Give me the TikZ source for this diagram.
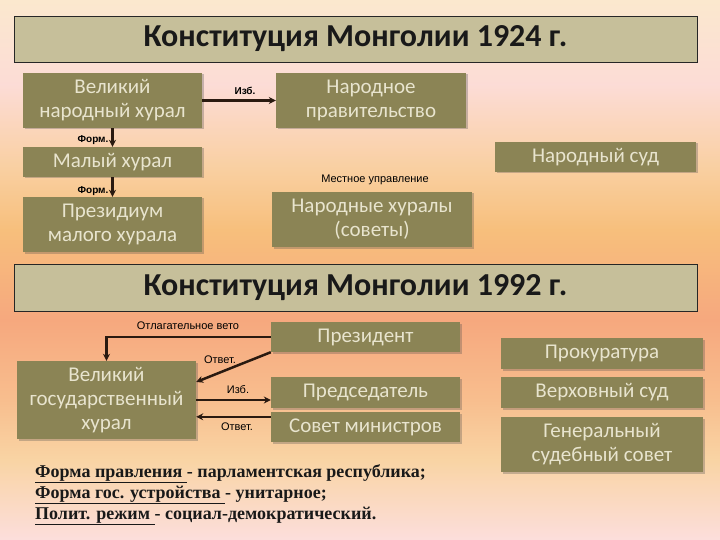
\documentclass[tikz,border=0pt]{standalone}
\usepackage{fontspec}
\setmainfont{Carlito}
\newfontfamily\lblfont{Liberation Sans}
\newfontfamily\serfont{Liberation Serif}
\usetikzlibrary{arrows.meta,shadows,calc}
\definecolor{olivebox}{HTML}{8B8455}
\definecolor{boxtxt}{HTML}{E8E4CE}
\definecolor{titlefill}{HTML}{C6BF9A}
\definecolor{arrcol}{HTML}{2A1A10}
\definecolor{bgA}{HTML}{FBE8CE}
\definecolor{bgB}{HTML}{FCDCD6}
\definecolor{bgC}{HTML}{F9CFA0}
\definecolor{bgD}{HTML}{F7BF7C}
\definecolor{bgE}{HTML}{F6A87E}
\definecolor{bgF}{HTML}{F8BE8E}
\definecolor{bgG}{HTML}{F9D4A4}
\definecolor{bgH}{HTML}{FCDEDC}
\tikzset{
  ob/.style={fill=olivebox, text=boxtxt, font=\fontsize{21}{24}\selectfont,
    align=center, inner sep=0pt,
    drop shadow={shadow xshift=1.5pt, shadow yshift=-1.5pt, opacity=0.3, fill=black!70}},
  tbox/.style={draw=black!85, line width=0.8pt, fill=titlefill, text=black!90,
    font=\bfseries\fontsize{32}{36}\selectfont, inner sep=0pt},
  arr/.style={line width=2.5pt, draw=arrcol, -{Stealth[length=7pt,width=7pt]}},
  lbl/.style={font=\lblfont\fontsize{11}{13}\selectfont, text=black, inner sep=0pt},
  lblb/.style={font=\lblfont\bfseries\fontsize{10}{12}\selectfont, text=black, inner sep=0pt},
  btxt/.style={font=\serfont\bfseries\fontsize{18}{21}\selectfont, text=black!90, inner sep=0pt, anchor=base west}
}
\begin{document}
\begin{tikzpicture}[x=1pt,y=-1pt]
\useasboundingbox (0,0) rectangle (720,540);
% background
\shade[top color=bgA, bottom color=bgB] (0,0) rectangle (720,85);
\shade[top color=bgB, bottom color=bgC] (0,85) rectangle (720,170);
\shade[top color=bgC, bottom color=bgD] (0,170) rectangle (720,230);
\shade[top color=bgD, bottom color=bgE] (0,230) rectangle (720,320);
\shade[top color=bgE, bottom color=bgF] (0,320) rectangle (720,400);
\shade[top color=bgF, bottom color=bgG] (0,400) rectangle (720,460);
\shade[top color=bgG, bottom color=bgH] (0,460) rectangle (720,540);
% titles
\node[tbox, minimum width=683pt, minimum height=46pt] (t1) at (355.5,39) {Конституция Монголии 1924 г.};
\node[tbox, minimum width=683pt, minimum height=47pt] (t2) at (355.5,287.5) {Конституция Монголии 1992 г.};
% 1924 boxes
\node[ob, minimum width=179pt, minimum height=55pt] (vnh) at (112.5,100.5) {Великий\\народный хурал};
\node[ob, minimum width=190pt, minimum height=55pt] (np) at (371,100.5) {Народное\\правительство};
\node[ob, minimum width=179pt, minimum height=30pt] (mx) at (112.5,162) {Малый хурал};
\node[ob, minimum width=201pt, minimum height=30pt] (ns) at (595.5,157) {Народный суд};
\node[ob, minimum width=179pt, minimum height=55pt] (pmx) at (112.5,224.5) {Президиум\\малого хурала};
\node[ob, minimum width=200pt, minimum height=55pt] (nhs) at (372,219.5) {Народные хуралы\\(советы)};
% 1992 boxes
\node[ob, minimum width=189pt, minimum height=30pt] (pres) at (365.5,337) {Президент};
\node[ob, minimum width=179pt, minimum height=78pt] (vgh) at (106.5,400) {Великий\\государственный\\хурал};
\node[ob, minimum width=189pt, minimum height=31pt] (pred) at (365.5,392.5) {Председатель};
\node[ob, minimum width=189pt, minimum height=30pt] (sov) at (365.5,427) {Совет министров};
\node[ob, minimum width=202pt, minimum height=31pt] (prok) at (602,353.5) {Прокуратура};
\node[ob, minimum width=202pt, minimum height=31pt] (vs) at (602,392.5) {Верховный суд};
\node[ob, minimum width=202pt, minimum height=55pt] (gss) at (602,444.5) {Генеральный\\судебный совет};
% connectors 1924
\draw[arr] (vnh.east) -- (np.west);
\draw[arr] (vnh.south) -- (mx.north);
\draw[arr] (mx.south) -- (pmx.north);
% connectors 1992
\draw[arr] (pres.west) -| (vgh.north);
\draw[arr] (pres.south west) -- ($(vgh.north east)!0.27!(vgh.south east)$);
\draw[arr] (vgh.east) -- (vgh.east -| pred.west);
\coordinate (so) at ($(sov.north west)+(0,5)$);
\draw[arr] (so) -- (so -| vgh.east);
% labels
\node[lblb] (l1) at (245,91) {Изб.};
\node[lblb] (l2) at (93,140) {Форм.};
\node[lblb] (l3) at (93,191) {Форм.};
\node[lbl] (l4) at (375,180) {Местное управление};
\node[lbl] (l5) at (188,326) {Отлагательное вето};
\node[lbl] (l6) at (220,360) {Ответ.};
\node[lbl] (l7) at (238,390) {Изб.};
\node[lbl] (l8) at (237,427) {Ответ.};
% bottom text
\node[btxt] (b1) at (35,477) {\underline{Форма правления }- парламентская республика;};
\node[btxt] (b2) at (35,498) {\underline{Форма гос. устройства }- унитарное;};
\node[btxt] (b3) at (35,519) {\underline{Полит. режим }- социал-демократический.};
\end{tikzpicture}
\end{document}
